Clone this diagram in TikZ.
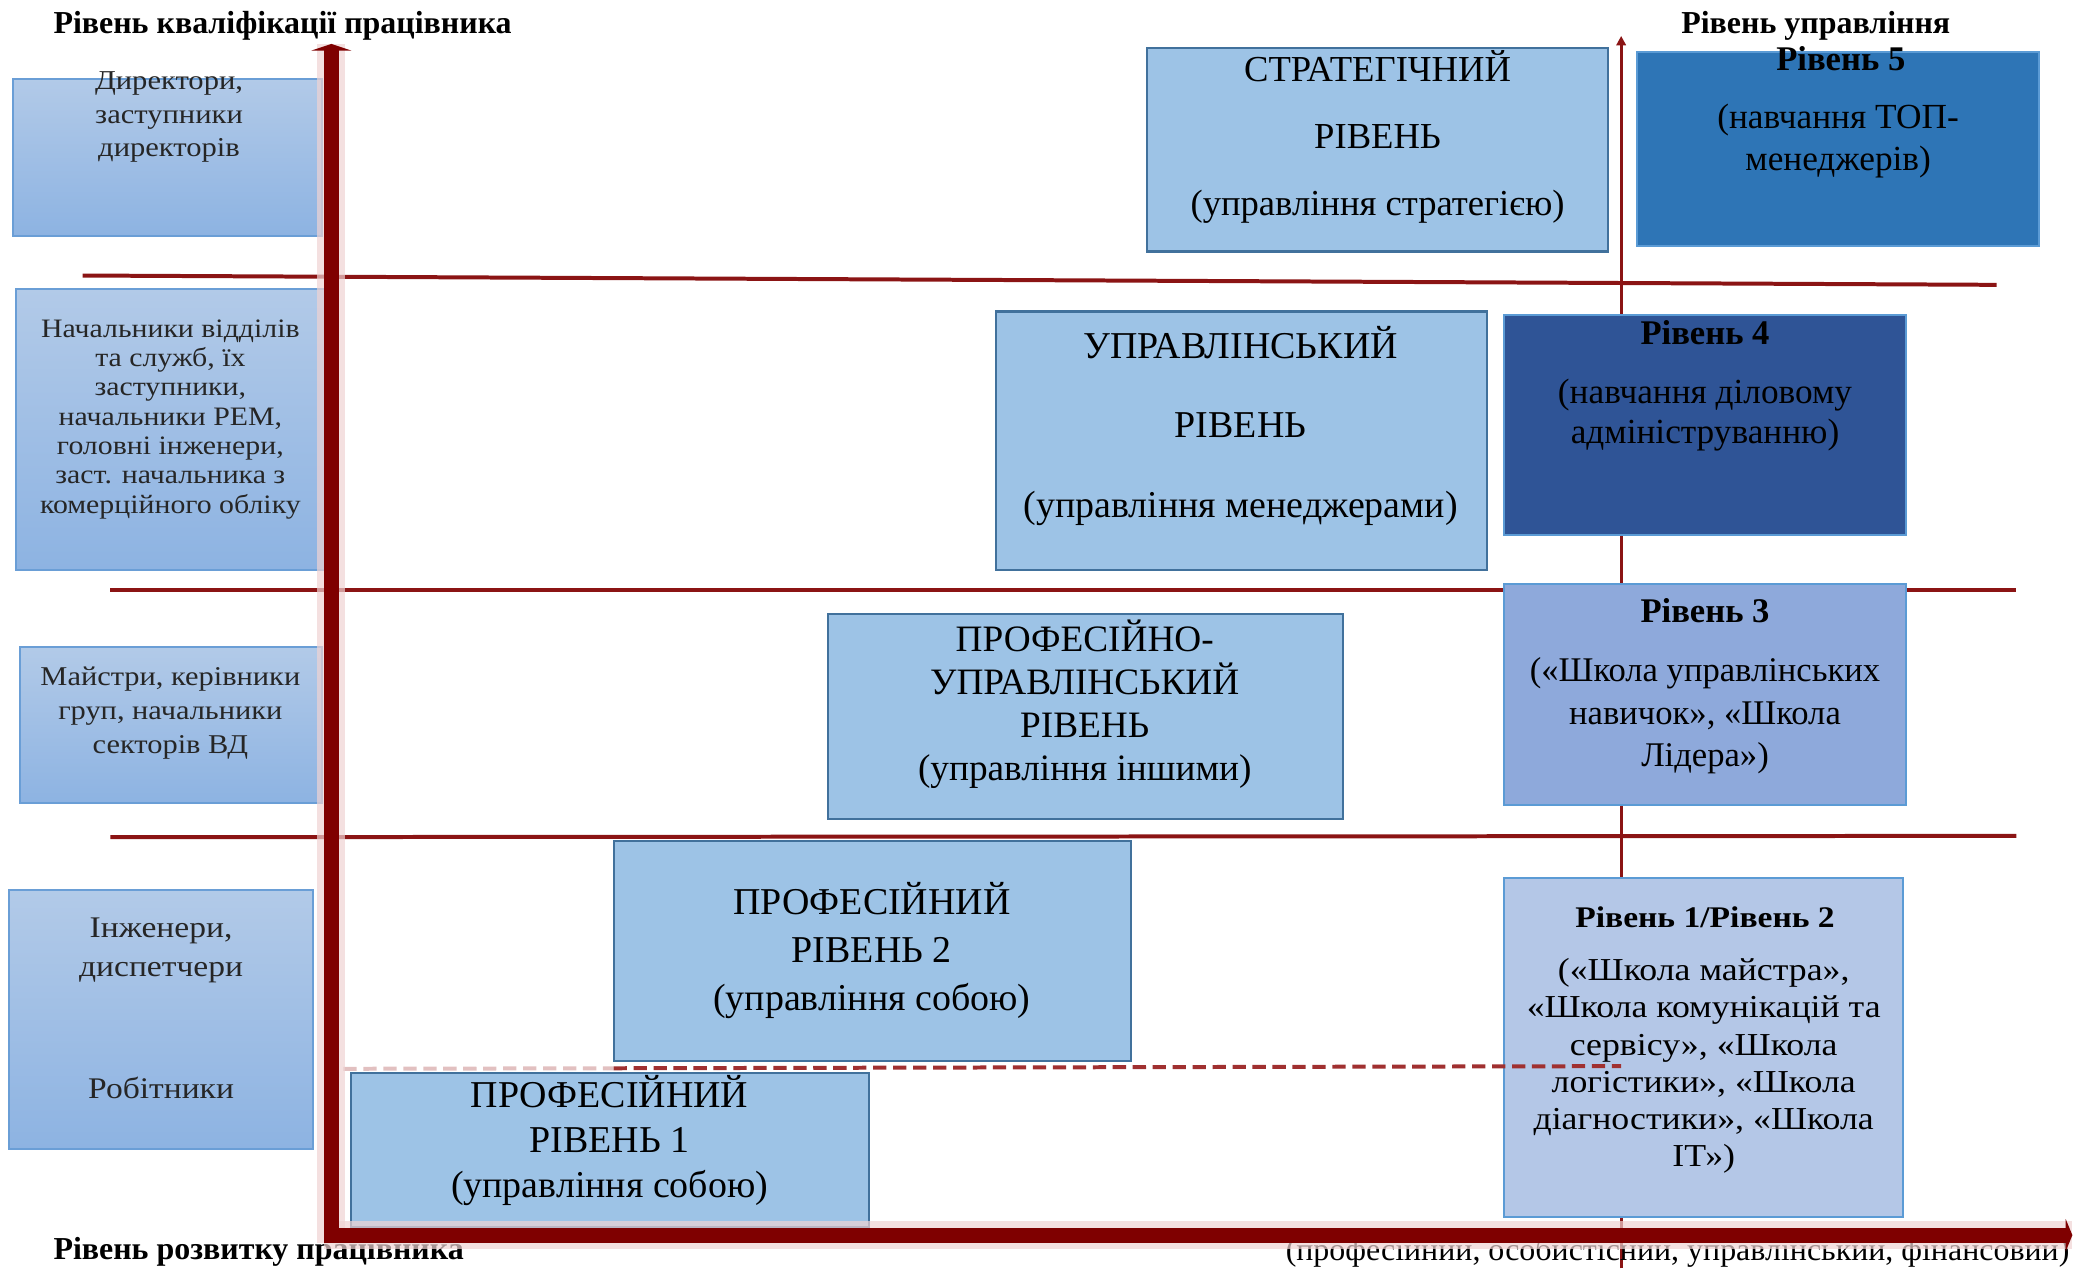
\documentclass[tikz,border=0pt]{standalone}
\usepackage{fontspec}
\setmainfont{Liberation Serif}
\newfontfamily\widefont{Liberation Serif}[FakeStretch=1.12]
\usetikzlibrary{arrows.meta,fit}
\definecolor{axisred}{HTML}{7F0000}
\definecolor{halocol}{HTML}{EFD3D3}
\definecolor{linered}{HTML}{8B1414}
\definecolor{dashred}{HTML}{A03030}
\definecolor{lefttop}{HTML}{B2CAE8}
\definecolor{leftbot}{HTML}{8DB3E2}
\definecolor{leftborder}{HTML}{6A9ED6}
\definecolor{midfill}{HTML}{9DC3E6}
\definecolor{midborder}{HTML}{41719C}
\definecolor{rfive}{HTML}{2E75B6}
\definecolor{rfour}{HTML}{2F5496}
\definecolor{rthree}{HTML}{8EA9DB}
\definecolor{ronetwo}{HTML}{B4C7E7}
\definecolor{rborder}{HTML}{5B9BD5}
\definecolor{lefttext}{HTML}{262626}
\tikzset{
  leftbox/.style={draw=leftborder, line width=1.5pt, top color=lefttop, bottom color=leftbot, inner sep=0pt},
  midbox/.style={draw=midborder, line width=1.6pt, fill=midfill, inner sep=0pt},
  rightbox/.style={draw=rborder, line width=1.5pt, fill=#1, inner sep=0pt},
  txt/.style={inner sep=0pt, align=center, text=black},
  ltxt/.style={inner sep=0pt, align=center, text=lefttext},
  thinred/.style={draw=linered, line width=3pt},
  thinvert/.style={draw=linered, line width=2.5pt},
  dashline/.style={draw=dashred, line width=3pt, dash pattern=on 10pt off 5pt},
  axisline/.style={draw=axisred, line width=11pt},
  haloline/.style={draw=halocol, line width=21pt, opacity=0.7},
  titletxt/.style={inner sep=0pt, font=\bfseries\fontsize{24}{28}\selectfont},
}
\begin{document}
\begin{tikzpicture}[x=1pt,y=-1pt]
\useasboundingbox (0,0) rectangle (1568,953);

% thin grid lines
\coordinate (h1a) at (62,207); \coordinate (h1b) at (1500,214);
\coordinate (h2a) at (83,443); \coordinate (h2b) at (1515,443);
\coordinate (h3a) at (83,629); \coordinate (h3b) at (1515,628);
\coordinate (vta) at (1218,953); \coordinate (vtb) at (1218,27);
\draw[thinred] (h1a) -- (h1b);
\draw[thinred] (h2a) -- (h2b);
\draw[thinred] (h3a) -- (h3b);
\draw[thinvert, -{Triangle[width=7pt,length=7pt]}] (vta) -- (vtb);

% left boxes
\node[leftbox, fit={(10,59)(242,177)}] (la) {};
\node[leftbox, fit={(12,217)(245,428)}] (lb) {};
\node[leftbox, fit={(15,486)(242,603)}] (lc) {};
\node[leftbox, fit={(7,669)(235,863)}] (ld) {};
\node[ltxt, font=\widefont\fontsize{20.5}{25}\selectfont] (lat) at (127,88) {Директори,\\заступники\\директорів};
\node[ltxt, font=\widefont\fontsize{20}{22}\selectfont] (lbt) at (128,315) {Начальники відділів\\та служб, їх\\заступники,\\начальники РЕМ,\\головні інженери,\\заст. начальника з\\комерційного обліку};
\node[ltxt, font=\widefont\fontsize{20.4}{25.5}\selectfont] (lct) at (128,536) {Майстри, керівники\\груп, начальники\\секторів ВД};
\node[ltxt, font=\widefont\fontsize{22.5}{29}\selectfont] (ldt) at (121,714) {Інженери,\\диспетчери};
\node[ltxt, font=\widefont\fontsize{22.5}{29}\selectfont] (ldr) at (121,817) {Робітники};

% middle boxes
\node[midbox, fit={(862,36)(1208,189)}] (ms) {};
\node[midbox, fit={(748,234)(1117,428)}] (mu) {};
\node[midbox, fit={(622,461)(1009,615)}] (mpu) {};
\node[midbox, fit={(461,632)(850,797)}] (mp2) {};
\node[midbox, fit={(264,806)(653,922)}] (mp1) {};
\node[txt, font=\fontsize{27.5}{50.5}\selectfont] (mst) at (1035,103) {СТРАТЕГІЧНИЙ\\РІВЕНЬ\\(управління стратегією)};
\node[txt, font=\fontsize{28.5}{59.5}\selectfont] (mut) at (932,320) {УПРАВЛІНСЬКИЙ\\РІВЕНЬ\\(управління менеджерами)};
\node[txt, font=\fontsize{28}{32.3}\selectfont] (mput) at (815,529) {ПРОФЕСІЙНО-\\УПРАВЛІНСЬКИЙ\\РІВЕНЬ\\(управління іншими)};
\node[txt, font=\fontsize{28.5}{36}\selectfont] (mp2t) at (655,714) {ПРОФЕСІЙНИЙ\\РІВЕНЬ 2\\(управління собою)};
\node[txt, font=\fontsize{28.5}{34}\selectfont] (mp1t) at (458,857) {ПРОФЕСІЙНИЙ\\РІВЕНЬ 1\\(управління собою)};

% right boxes
\node[rightbox=rfive, fit={(1230,39)(1532,185)}] (r5) {};
\node[rightbox=rfour, fit={(1130,237)(1432,402)}] (r4) {};
\node[rightbox=rthree, fit={(1130,439)(1432,605)}] (r3) {};
\node[rightbox=ronetwo, fit={(1130,660)(1430,914)}] (r12) {};
\node[txt, font=\bfseries\fontsize{26}{30}\selectfont] (r5h) at (1383,44) {Рівень 5};
\node[txt, font=\fontsize{26.5}{31}\selectfont] (r5t) at (1381,106) {(навчання ТОП-\\менеджерів)};
\node[txt, font=\bfseries\fontsize{26}{30}\selectfont] (r4h) at (1281,250) {Рівень 4};
\node[txt, font=\fontsize{26.5}{30}\selectfont] (r4t) at (1281,312) {(навчання діловому\\адмініструванню)};
\node[txt, font=\bfseries\fontsize{26}{30}\selectfont] (r3h) at (1281,459) {Рівень 3};
\node[txt, font=\fontsize{26}{32}\selectfont] (r3t) at (1281,538) {(«Школа управлінських\\навичок», «Школа\\Лідера»)};
\node[txt, font=\widefont\bfseries\fontsize{22.5}{28}\selectfont] (r12h) at (1281,689) {Рівень 1/Рівень 2};
\node[txt, font=\widefont\fontsize{24}{28}\selectfont] (r12t) at (1280,801) {(«Школа майстра»,\\«Школа комунікацій та\\сервісу», «Школа\\логістики», «Школа\\діагностики», «Школа\\ІТ»)};

% dashed line (faint where it runs between the axis and the level-2 box)
\coordinate (dl) at (258,803); \coordinate (dm) at (461,802.6); \coordinate (dr) at (1218,801);
\draw[dashline, opacity=0.3] (dl) -- (dm);
\draw[dashline] (dm) -- (dr);

% titles
\node[titletxt, anchor=base west] (ty) at (40,25) {Рівень кваліфікації працівника};
\node[titletxt, anchor=base west] (tr) at (1263,25) {Рівень управління};
\node[titletxt, anchor=base west] (tx) at (40,946) {Рівень розвитку працівника};
\node[inner sep=0pt, anchor=base east, font=\fontsize{24}{28}\selectfont] (tb) at (1555,947) {(професійний, особистісний, управлінський, фінансовий)};

% axes
\coordinate (ybot) at (249,934);
\coordinate (ytop) at (249,33);
\coordinate (xstart) at (243.5,928);
\coordinate (xend) at (1557,928);
\draw[haloline] (ybot) -- (ytop);
\draw[haloline] (xstart) -- (xend);
\draw[axisline, -{Triangle[width=30pt,length=5pt]}] (ybot) -- (ytop);
\draw[axisline, -{Triangle[width=24pt,length=5pt]}] (xstart) -- (xend);
\end{tikzpicture}
\end{document}
